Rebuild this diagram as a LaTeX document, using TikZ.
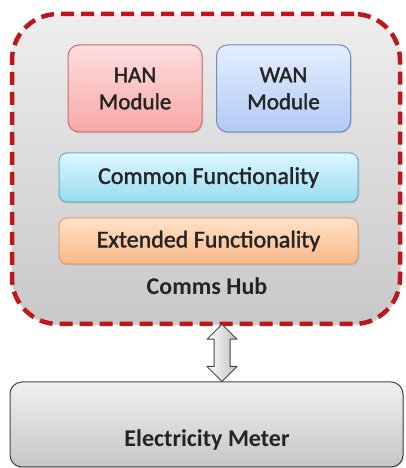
\documentclass[tikz,border=0pt]{standalone}
\usepackage{fontspec}
\setmainfont{Carlito}
\usetikzlibrary{shadows,shapes.arrows,calc}
\definecolor{hubred}{RGB}{190,22,26}
\definecolor{txt}{RGB}{36,36,36}
\newfontfamily\heavy[FakeBold=1.6]{Carlito}
\tikzset{
  box/.style={rounded corners=11pt, inner sep=0pt, text=txt, align=center,
    drop shadow={opacity=0.3, shadow xshift=1pt, shadow yshift=-1.5pt}},
  han/.style={box, draw={rgb,255:red,205;green,110;blue,110}, line width=1pt,
    top color={rgb,255:red,255;green,222;blue,222}, bottom color={rgb,255:red,247;green,168;blue,168}},
  wan/.style={box, draw={rgb,255:red,110;green,140;blue,200}, line width=1pt,
    top color={rgb,255:red,228;green,238;blue,255}, bottom color={rgb,255:red,178;green,202;blue,245}},
  common/.style={box, rounded corners=8pt, draw={rgb,255:red,95;green,175;blue,200}, line width=1pt,
    top color={rgb,255:red,222;green,247;blue,255}, bottom color={rgb,255:red,150;green,220;blue,240}},
  ext/.style={box, rounded corners=8pt, draw={rgb,255:red,225;green,160;blue,110}, line width=1pt,
    top color={rgb,255:red,255;green,226;blue,200}, bottom color={rgb,255:red,250;green,183;blue,135}},
  hubbox/.style={rounded corners=46pt, draw=hubred, line width=4.5pt, dash pattern=on 13pt off 7pt,
    top color={rgb,255:red,238;green,238;blue,238}, bottom color={rgb,255:red,200;green,200;blue,200},
    inner sep=0pt, drop shadow={opacity=0.3, shadow xshift=1pt, shadow yshift=-1.5pt}},
  meter/.style={box, rounded corners=12pt, draw={rgb,255:red,70;green,70;blue,70}, line width=1pt,
    top color={rgb,255:red,240;green,240;blue,240}, bottom color={rgb,255:red,198;green,198;blue,198}},
  lbl/.style={text=txt, inner sep=0pt},
  modfont/.style={font=\heavy\fontsize{23}{27}\selectfont},
  barfont/.style={font=\heavy\fontsize{24}{28}\selectfont},
  boldfont/.style={font=\bfseries\fontsize{24}{28}\selectfont},
}
\begin{document}
\begin{tikzpicture}[x=1pt,y=1pt]
\useasboundingbox (0,0) rectangle (405,468);
\node[hubbox, minimum width=388pt, minimum height=310pt] (hub) at (206,299) {};
\node[han, minimum width=134pt, minimum height=87pt, modfont] (han) at (135,379.5) {HAN\\Module};
\node[wan, minimum width=134pt, minimum height=87pt, modfont] (wan) at (283.5,379.5) {WAN\\Module};
\node[common, minimum width=299pt, minimum height=49pt, barfont] (common) at (208.5,290.5) {Common Functionality};
\node[ext, minimum width=299pt, minimum height=46pt, barfont] (ext) at (208.5,227) {Extended Functionality};
\node[lbl, boldfont, anchor=base] (hublbl) at (207,173) {Comms Hub};
\node[meter, minimum width=393pt, minimum height=85pt] (meter) at (206.5,43.5) {};
\node[lbl, boldfont, anchor=base] (meterlbl) at (207,21.5) {Electricity Meter};
% double arrow between hub and meter
\coordinate (atop) at ($(hub.south)+(16,2)$);
\coordinate (abot) at ($(meter.north)+(15.5,0)$);
\path[draw={rgb,255:red,70;green,70;blue,70}, line width=1pt, left color=white, right color={rgb,255:red,190;green,190;blue,190}, line join=round]
  (atop) -- ++(-15,-15) -- ++(7,0) |- ($(abot)+(-8,15)$) -- ++(-7,0) -- (abot)
  -- ++(15,15) -- ++(-7,0) |- ($(atop)+(8,-15)$) -- ++(7,0) -- cycle;
\end{tikzpicture}
\end{document}
